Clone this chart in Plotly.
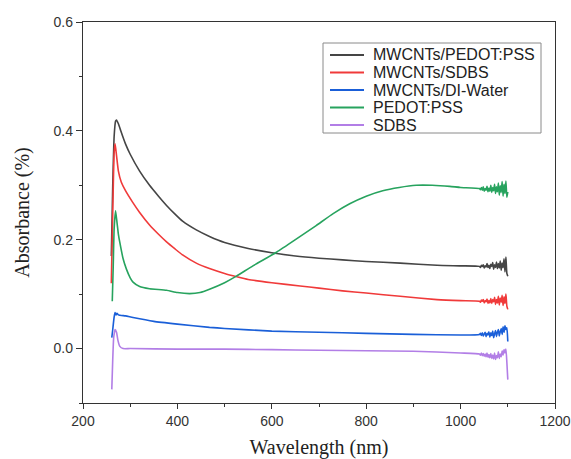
import plotly.graph_objects as go

# ---------------- data ----------------
noise_x = list(range(1042, 1101, 2))  # 1042 ... 1100

pedot_cnt_x = [260, 263, 266, 269, 271, 275, 280, 290, 300, 320, 341, 360, 377, 395, 411,
               440, 468, 500, 550, 600, 650, 700, 750, 800, 872, 950, 1000, 1040] + noise_x
pedot_cnt_y = [0.17, 0.30, 0.39, 0.418, 0.42, 0.413, 0.400, 0.376, 0.357, 0.326, 0.300,
               0.280, 0.263, 0.247, 0.234, 0.218, 0.206, 0.195, 0.184, 0.176, 0.170,
               0.166, 0.163, 0.160, 0.157, 0.153, 0.152, 0.151,
               0.149, 0.153, 0.151, 0.154, 0.148, 0.152, 0.150, 0.156, 0.149, 0.153,
               0.147, 0.155, 0.151, 0.158, 0.146, 0.154, 0.149, 0.159, 0.147, 0.156,
               0.148, 0.161, 0.144, 0.157, 0.149, 0.165, 0.141, 0.168, 0.138, 0.133]

sdbs_cnt_x = [260, 263, 266, 268, 271, 275, 281, 290, 305, 320, 341, 360, 377, 395, 411,
              440, 468, 500, 526, 550, 600, 660, 700, 750, 800, 872, 950, 1000, 1040] + noise_x
sdbs_cnt_y = [0.12, 0.25, 0.36, 0.376, 0.355, 0.326, 0.306, 0.290, 0.269, 0.250, 0.227,
              0.210, 0.196, 0.183, 0.172, 0.157, 0.147, 0.138, 0.132, 0.127, 0.121,
              0.115, 0.111, 0.106, 0.102, 0.096, 0.090, 0.088, 0.087,
              0.085, 0.089, 0.087, 0.090, 0.084, 0.088, 0.086, 0.091, 0.083, 0.088,
              0.084, 0.092, 0.083, 0.090, 0.086, 0.094, 0.081, 0.090, 0.084, 0.096,
              0.080, 0.093, 0.085, 0.098, 0.079, 0.095, 0.083, 0.100, 0.078, 0.072]

water_cnt_x = [261, 263, 266, 268, 270, 272, 275, 290, 306, 350, 400, 468, 500, 600,
               700, 800, 900, 1000, 1040] + noise_x
water_cnt_y = [0.020, 0.035, 0.058, 0.066, 0.062, 0.065, 0.062, 0.060, 0.057, 0.050,
               0.045, 0.039, 0.037, 0.032, 0.030, 0.028, 0.026, 0.025, 0.026,
               0.028, 0.024, 0.029, 0.023, 0.027, 0.030, 0.022, 0.028, 0.025, 0.031,
               0.021, 0.029, 0.024, 0.032, 0.020, 0.027, 0.033, 0.022, 0.030, 0.035,
               0.023, 0.031, 0.037, 0.026, 0.040, 0.030, 0.042, 0.035, 0.038, 0.013]

pedot_x = [262, 264, 266, 269, 272, 275, 278, 285, 292, 300, 306, 320, 341, 377, 400,
           426, 448, 468, 500, 525, 560, 610, 650, 694, 730, 765, 800, 835, 870, 906,
           940, 977, 1000, 1040] + noise_x
pedot_y = [0.087, 0.15, 0.22, 0.253, 0.232, 0.210, 0.195, 0.165, 0.146, 0.130, 0.122,
           0.114, 0.110, 0.107, 0.103, 0.101, 0.103, 0.109, 0.121, 0.133, 0.152,
           0.177, 0.200, 0.226, 0.248, 0.266, 0.280, 0.290, 0.296, 0.300, 0.300,
           0.298, 0.296, 0.294,
           0.292, 0.296, 0.291, 0.297, 0.289, 0.294, 0.291, 0.298, 0.288, 0.295,
           0.289, 0.300, 0.287, 0.296, 0.290, 0.302, 0.285, 0.297, 0.288, 0.304,
           0.282, 0.299, 0.287, 0.307, 0.280, 0.302, 0.285, 0.308, 0.278, 0.288]

sdbs_x = [261, 263, 265, 268, 271, 274, 278, 285, 300, 400, 500, 600, 700, 800, 900,
          1000, 1040] + noise_x
sdbs_y = [-0.075, -0.02, 0.02, 0.035, 0.030, 0.015, 0.004, 0.000, 0.000, -0.001,
          -0.001, -0.002, -0.003, -0.004, -0.005, -0.008, -0.010,
          -0.012, -0.008, -0.013, -0.009, -0.014, -0.010, -0.015, -0.008, -0.016,
          -0.011, -0.017, -0.009, -0.018, -0.012, -0.019, -0.008, -0.020, -0.013,
          -0.017, -0.006, -0.018, -0.010, -0.015, -0.004, -0.012, -0.002, -0.008,
          -0.001, -0.025, -0.057]

series_names = ["MWCNTs/PEDOT:PSS", "MWCNTs/SDBS", "MWCNTs/DI-Water", "PEDOT:PSS", "SDBS"]
series_x = [pedot_cnt_x, sdbs_cnt_x, water_cnt_x, pedot_x, sdbs_x]
series_y = [pedot_cnt_y, sdbs_cnt_y, water_cnt_y, pedot_y, sdbs_y]
series_colors = ["#454545", "#f03a3a", "#1a5fd8", "#27a35e", "#b27ee6"]

x_ticks = [200, 400, 600, 800, 1000, 1200]
y_ticks = [0.0, 0.2, 0.4, 0.6]

# ---------------- figure ----------------
W, H = 571, 459
ML, MR, MT, MB = 83, 16, 22, 56
PW, PH = W - ML - MR, H - MT - MB


def px_to_paper(px, py):
    return (px - ML) / PW, (H - MB - py) / PH


fig = go.Figure()
for name, xs, ys, col in zip(series_names, series_x, series_y, series_colors):
    fig.add_trace(go.Scatter(x=xs, y=ys, mode="lines", name=name, showlegend=False,
                             line=dict(color=col, width=1.6, shape="spline", smoothing=0.5)))

tick_font = dict(family="Liberation Sans, Arial, sans-serif", size=14, color="#333333")
title_font = dict(family="Liberation Serif, Times New Roman, serif", size=20, color="#222222")

# legend drawn as a compact box (reference rows are tighter than plotly's legend allows)
shapes = []
annotations = []
bx0, by0 = px_to_paper(323, 43)
bx1, by1 = px_to_paper(541, 133)
shapes.append(dict(type="rect", xref="paper", yref="paper", x0=bx0, x1=bx1, y0=by1, y1=by0,
                   line=dict(color="#8a8a8a", width=1), fillcolor="white", layer="above"))
row_centers = [55, 72.5, 90, 107.5, 125]
for name, col, rc in zip(series_names, series_colors, row_centers):
    lx0, ly = px_to_paper(330, rc)
    lx1, _ = px_to_paper(364, rc)
    tx, _ = px_to_paper(371, rc)
    shapes.append(dict(type="line", xref="paper", yref="paper", x0=lx0, x1=lx1, y0=ly, y1=ly,
                       line=dict(color=col, width=1.8), layer="above"))
    annotations.append(dict(xref="paper", yref="paper", x=tx, y=ly, text=name, showarrow=False,
                            xanchor="left", yanchor="middle",
                            font=dict(family="Liberation Sans, Arial, sans-serif", size=16,
                                      color="#222222")))

fig.update_layout(
    width=W, height=H,
    margin=dict(l=ML, r=MR, t=MT, b=MB),
    paper_bgcolor="white", plot_bgcolor="white",
    showlegend=False,
    shapes=shapes, annotations=annotations,
)
fig.update_xaxes(
    range=[200, 1200], tickvals=x_ticks, ticks="outside", ticklen=5, tickwidth=1,
    tickcolor="#333333", showline=True, linecolor="#333333", linewidth=1.3, mirror=True,
    showgrid=False, zeroline=False, tickfont=tick_font, automargin=False,
    minor=dict(dtick=100, ticks="outside", ticklen=3, tickcolor="#333333", showgrid=False),
    title=dict(text="Wavelength (nm)", font=title_font, standoff=16),
)
fig.update_yaxes(
    range=[-0.1, 0.6], tickvals=y_ticks, tickformat=".1f", ticks="outside", ticklen=6,
    tickwidth=1, tickcolor="#333333", showline=True, linecolor="#333333", linewidth=1.3,
    mirror=True, showgrid=False, zeroline=False, tickfont=tick_font, automargin=False,
    minor=dict(dtick=0.1, tick0=0, ticks="outside", ticklen=3, tickcolor="#333333", showgrid=False),
    title=dict(text="Absorbance (%)", font=title_font, standoff=18),
)

fig.write_html("out.html", config={"displayModeBar": False},
               post_script="document.body.style.margin='0';document.body.style.overflow='hidden';")
